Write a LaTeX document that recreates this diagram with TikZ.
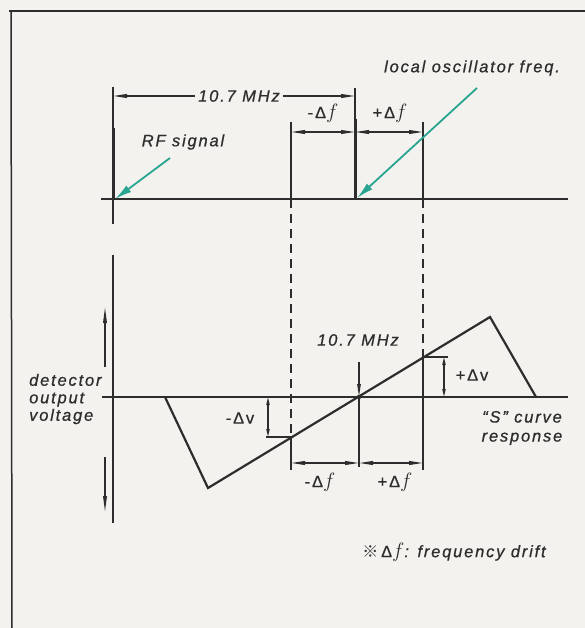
\documentclass[tikz,border=0pt]{standalone}
\usepackage{fontspec}
\setmainfont{Liberation Sans}
\newfontfamily\lbl[LetterSpace=11,FakeBold=0.7]{Liberation Sans}
\newfontfamily\cjk{Noto Sans CJK JP}
\usetikzlibrary{arrows.meta}
\definecolor{teal2}{RGB}{40,165,145}
\definecolor{ink}{RGB}{45,45,45}
\definecolor{paper}{RGB}{243,242,238}
\newcommand{\ff}{{\fontsize{20}{20}\selectfont$f$}}
\begin{document}
\begin{tikzpicture}[x=1pt,y=-1pt,
  thinline/.style={draw=ink, line width=1.3pt},
  thickline/.style={draw=ink, line width=3pt},
  curveline/.style={draw=ink, line width=2.2pt, line join=miter},
  dashline/.style={draw=ink, line width=1.3pt, dash pattern=on 9pt off 6pt},
  dimboth/.style={draw=ink, line width=1.3pt, {Triangle[length=14pt,width=3.8pt]}-{Triangle[length=14pt,width=3.8pt]}},
  dimshort/.style={draw=ink, line width=1.3pt, {Triangle[length=8pt,width=3.2pt]}-{Triangle[length=8pt,width=3.2pt]}},
  dimone/.style={draw=ink, line width=1.3pt, -{Triangle[length=13pt,width=3.4pt]}},
  pointer/.style={draw=teal2, line width=1.8pt, -{Latex[length=17pt,width=8pt]}},
  lab/.style={font=\lbl\itshape\fontsize{16.5}{18}\selectfont, text=ink, inner sep=1pt},
  labu/.style={font=\lbl\fontsize{16.5}{18}\selectfont, text=ink, inner sep=1pt}]
\fill[paper] (0,0) rectangle (585,628);
\useasboundingbox (0,0) rectangle (585,628);
% frame
\draw[ink, line width=1.5pt] (9,11) -- (585,11);
\draw[ink, line width=1.5pt] (11,11) -- (12,628);

% ---------- top spectrum ----------
\coordinate (ax1L) at (101,199);
\coordinate (ax1R) at (568,199);
\draw[thinline] (ax1L) -- (ax1R);
\coordinate (rfT) at (113,87);
\coordinate (rfK) at (113,128);
\coordinate (rf0) at (113,199);
\coordinate (rfB) at (113,224);
\draw[thinline] (rfT) -- (rfB);
\draw[thickline] (rfK) -- (rf0);
\coordinate (loT) at (355,88);
\coordinate (loK) at (355,119);
\coordinate (lo0) at (355,199);
\draw[thinline] (loT) -- (lo0);
\draw[thickline] (loK) -- (lo0);
\coordinate (dlT) at (291,122);
\coordinate (dl0) at (291,199);
\coordinate (drT) at (423,122);
\coordinate (dr0) at (423,199);
\draw[thinline] (dlT) -- (dl0);
\draw[thinline] (drT) -- (dr0);
% 10.7 MHz dimension
\coordinate (mA) at (113,96);
\coordinate (mB) at (355,96);
\draw[dimboth] (mA) -- (mB);
\node[lab, fill=paper, inner xsep=3pt] (mhz1) at (239,96) {10.7 MHz};
% delta f dimension
\coordinate (fA) at (291,132);
\coordinate (fM) at (355,132);
\coordinate (fB) at (423,132);
\draw[dimboth] (fA) -- (fM);
\draw[dimboth] (fM) -- (fB);
\node[labu] (mdf1) at (323,113) {-Δ\ff};
\node[labu] (pdf1) at (390,113) {+Δ\ff};
% labels + teal pointers
\node[lab] (rfl) at (183,142) {RF signal};
\node[lab] (lol) at (472,68) {local oscillator freq.};
\coordinate (rfS) at (170,158);
\coordinate (rfE) at (115,199);
\draw[pointer] (rfS) -- (rfE);
\coordinate (loS) at (477,88);
\coordinate (loE) at (357,198);
\draw[pointer] (loS) -- (loE);

% ---------- lower S curve ----------
\coordinate (yaT) at (113,255);
\coordinate (yaB) at (113,523);
\draw[thinline] (yaT) -- (yaB);
\coordinate (upA) at (105,367);
\coordinate (upB) at (105,307);
\draw[thinline, -{Triangle[length=16pt,width=3.6pt]}] (upA) -- (upB);
\coordinate (dnA) at (105,457);
\coordinate (dnB) at (105,512);
\draw[thinline, -{Triangle[length=16pt,width=3.6pt]}] (dnA) -- (dnB);
\coordinate (ax2L) at (102,397);
\coordinate (ax2R) at (568,397);
\draw[thinline] (ax2L) -- (ax2R);
\coordinate (s0) at (165,397);
\coordinate (s1) at (208,488);
\coordinate (s2) at (490,317);
\coordinate (s3) at (536,397);
\draw[curveline] (s0) -- (s1) -- (s2) -- (s3);
\coordinate (c0) at (359,397);
\fill[ink] (c0) circle (2.2pt);
% dashed projections
\coordinate (pl) at (291,437);
\coordinate (plB) at (291,470);
\coordinate (pr) at (423,357);
\coordinate (prB) at (423,470);
\draw[dashline] (dl0) -- (pl);
\draw[thinline] (pl) -- (plB);
\draw[dashline] (dr0) -- (pr);
\draw[thinline] (pr) -- (prB);
% centre marker
\coordinate (cT) at (359,362);
\coordinate (cB) at (359,467);
\draw[dimone] (cT) -- (c0);
\draw[thinline] (c0) -- (cB);
\node[lab] (mhz2) at (358,340) {10.7 MHz};
% +dv
\coordinate (pvT) at (448,357);
\draw[thinline] (pr) -- (pvT);
\coordinate (pvA) at (444,357);
\coordinate (pvB) at (444,397);
\draw[dimshort] (pvA) -- (pvB);
\node[labu] (pdv) at (472,375) {+Δv};
% -dv
\coordinate (mvT) at (266,437);
\draw[thinline] (mvT) -- (pl);
\coordinate (mvA) at (268,397);
\coordinate (mvB) at (268,437);
\draw[dimshort] (mvA) -- (mvB);
\node[labu] (mdv) at (240,418) {-Δv};
% bottom delta f
\coordinate (gA) at (291,463);
\coordinate (gM) at (359,463);
\coordinate (gB) at (423,463);
\draw[dimboth] (gA) -- (gM);
\draw[dimboth] (gM) -- (gB);
\node[labu] (mdf2) at (320,482) {-Δ\ff};
\node[labu] (pdf2) at (395,482) {+Δ\ff};
% side labels
\node[lab, align=left, anchor=west, font=\lbl\itshape\fontsize{16.5}{17.5}\selectfont] (det) at (28,399) {detector\\output\\voltage};
\node[lab, align=center, font=\lbl\itshape\fontsize{16.5}{19}\selectfont] (scv) at (522,428) {“S” curve\\response};
\node[lab] (note) at (454,552) {{\cjk\upshape\fontsize{16}{16}\selectfont ※}\,{\upshape Δ}\ff: frequency drift};
\end{tikzpicture}
\end{document}
